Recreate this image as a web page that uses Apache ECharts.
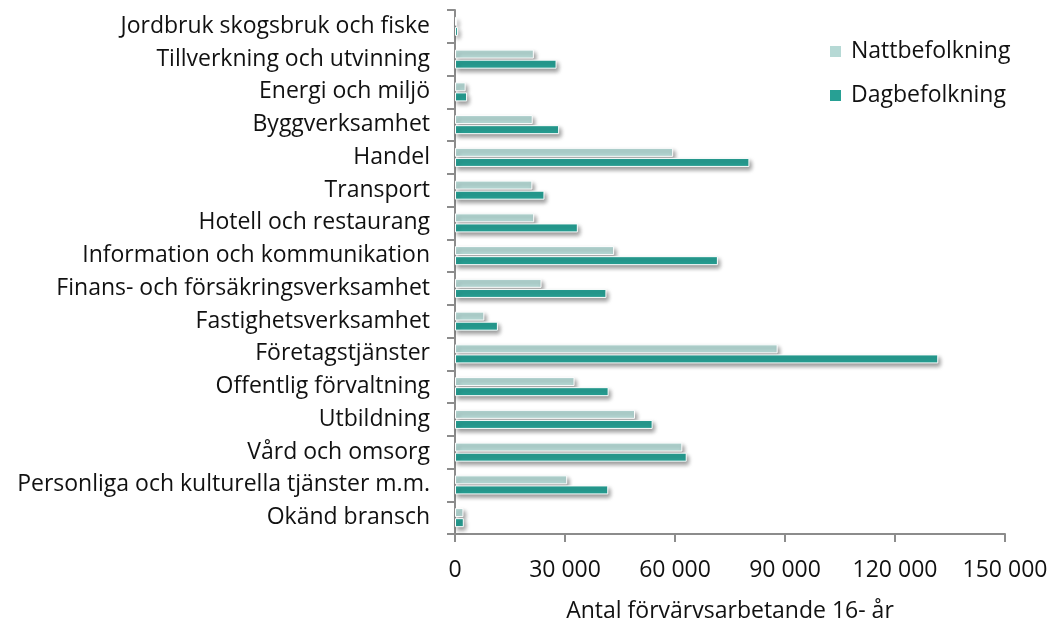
<!DOCTYPE html>
<html><head><meta charset="utf-8">
<script src="https://cdn.jsdelivr.net/npm/echarts@6/dist/echarts.min.js"></script>
<style>html,body{margin:0;padding:0;background:#fff}#c{width:1053px;height:622px}</style>
</head><body><div id="c"></div>
<script>
const categories = ["Jordbruk skogsbruk och fiske","Tillverkning och utvinning","Energi och miljö","Byggverksamhet","Handel","Transport","Hotell och restaurang","Information och kommunikation","Finans- och försäkringsverksamhet","Fastighetsverksamhet","Företagstjänster","Offentlig förvaltning","Utbildning","Vård och omsorg","Personliga och kulturella tjänster m.m.","Okänd bransch"];
const nattbefolkning = [500,21500,2900,21200,59500,21100,21600,43400,23600,8000,88000,32600,49100,62000,30600,2300];
const dagbefolkning = [800,27700,3300,28400,80300,24400,33500,71700,41300,11700,131800,41900,53900,63200,41800,2400];
const xTicks = [0,30000,60000,90000,120000,150000];
const FONT = "Open Sans";
const FS = 23;
const chart = echarts.init(document.getElementById('c'));
const barStyle = (c)=>({color:c,borderColor:'#fff',borderWidth:1,shadowBlur:4,shadowColor:'rgba(0,0,0,0.4)',shadowOffsetX:2,shadowOffsetY:3});
chart.setOption({
  animation:false,
  textStyle:{fontFamily:FONT},
  grid:{left:455,right:48,top:10,bottom:88,containLabel:false,outerBoundsMode:'none'},
  legend:{orient:'vertical',left:823,top:35,itemWidth:13,itemHeight:13,itemGap:21,icon:'rect',
    textStyle:{fontFamily:FONT,fontSize:FS,color:'#111',padding:[0,0,0,4]},data:['Nattbefolkning','Dagbefolkning']},
  xAxis:{type:'value',min:xTicks[0],max:xTicks[xTicks.length-1],interval:30000,
    name:'Antal förvärvsarbetande 16- år',nameLocation:'middle',nameGap:66,
    nameTextStyle:{fontFamily:FONT,fontSize:FS,color:'#111'},
    axisLine:{show:true,lineStyle:{color:'#8c8c8c',width:2}},
    axisTick:{show:true,length:8,lineStyle:{color:'#8c8c8c',width:2}},
    splitLine:{show:false},
    axisLabel:{margin:25,fontFamily:FONT,fontSize:FS,color:'#111',
      formatter:v=>String(v).replace(/\B(?=(\d{3})+(?!\d))/g,' ')}},
  yAxis:{type:'category',data:categories,inverse:true,
    axisLine:{show:true,lineStyle:{color:'#8c8c8c',width:2}},
    axisTick:{show:true,length:8,lineStyle:{color:'#8c8c8c',width:2}},
    axisLabel:{margin:25,fontFamily:FONT,fontSize:FS,color:'#111'}},
  series:[
    {name:'Nattbefolkning',type:'bar',data:nattbefolkning,barWidth:9,barGap:'12%',itemStyle:barStyle('#b6d9d5')},
    {name:'Dagbefolkning',type:'bar',data:dagbefolkning,barWidth:9,barGap:'12%',itemStyle:barStyle('#27a094')}
  ]
});
</script></body></html>
